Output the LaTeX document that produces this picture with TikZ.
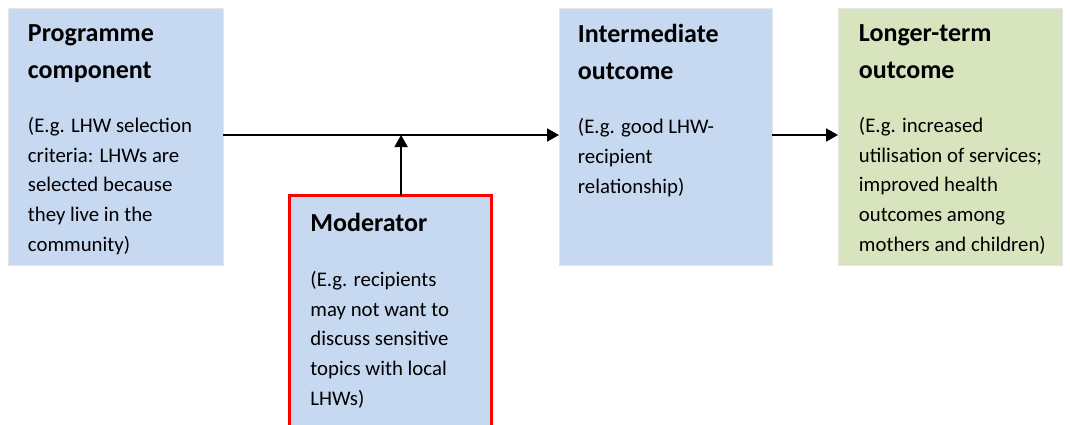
\documentclass[tikz,border=0pt]{standalone}
\usepackage{fontspec}
\setmainfont{Carlito}
\usetikzlibrary{arrows.meta,positioning,calc}

\definecolor{boxblue}{RGB}{198,217,241}
\definecolor{boxgreen}{RGB}{215,228,189}
\definecolor{modred}{RGB}{255,0,0}

\tikzset{
	titletext/.style={anchor=base west,inner sep=0pt,align=left,font=\fontsize{26}{37}\selectfont\bfseries},
	bodytext/.style={anchor=base west,inner sep=0pt,align=left,font=\fontsize{20.8}{29.6}\selectfont},
}

\begin{document}
\begin{tikzpicture}[x=1pt,y=-1pt,line width=1.9pt,>={Triangle[length=12pt,width=13pt]}]
	\useasboundingbox (0,0) rectangle (1070,424);

	\begin{scope}[every node/.style={draw=black!10,line width=0.6pt,rectangle,anchor=north west,outer sep=0pt,inner sep=0pt}]
		\node[fill=boxblue,minimum width=215pt,minimum height=257pt] (prog) at (8,8) {};
		\node[fill=boxblue,minimum width=213pt,minimum height=257pt] (inter) at (559,8) {};
		\node[fill=boxgreen,minimum width=224pt,minimum height=257pt] (longer) at (838,8) {};
		\node[fill=boxblue,draw=modred,line width=3pt,minimum width=202pt,minimum height=260pt] (moder) at (289.5,195.5) {};
	\end{scope}

	% titles (base = last line)
	\node[titletext] (progtitle) at ([xshift=19pt,yshift=-70pt]prog.north west) {Programme\\component};
	\node[titletext] (intertitle) at ([xshift=18pt,yshift=-71pt]inter.north west) {Intermediate\\outcome};
	\node[titletext] (longertitle) at ([xshift=20pt,yshift=-70pt]longer.north west) {Longer-term\\outcome};
	\node[titletext] (modertitle) at ([xshift=20pt,yshift=-35.5pt]moder.north west) {Moderator};

	% examples
	\node[bodytext] (progbody) at ([yshift=-173pt]progtitle.base west) {(E.g. LHW selection\\criteria: LHWs are\\selected because\\they live in the\\community)};
	\node[bodytext] (interbody) at ([yshift=-114pt]intertitle.base west) {(E.g. good LHW-\\recipient\\relationship)};
	\node[bodytext] (longerbody) at ([yshift=-173pt]longertitle.base west) {(E.g. increased\\utilisation of services;\\improved health\\outcomes among\\mothers and children)};
	\node[bodytext] (moderbody) at ([yshift=-174pt]modertitle.base west) {(E.g. recipients\\may not want to\\discuss sensitive\\topics with local\\LHWs)};

	\coordinate (join) at ($(prog.east)!0.53!(inter.west)$);

	\draw[->] ([yshift=1.5pt]prog.east) -- ([yshift=1.5pt]inter.west);
	\draw[->] (moder.north -| join) -- ([yshift=1.5pt]join);
	\draw[->] ([yshift=1.5pt]inter.east) -- ([yshift=1.5pt]longer.west);

\end{tikzpicture}
\end{document}
